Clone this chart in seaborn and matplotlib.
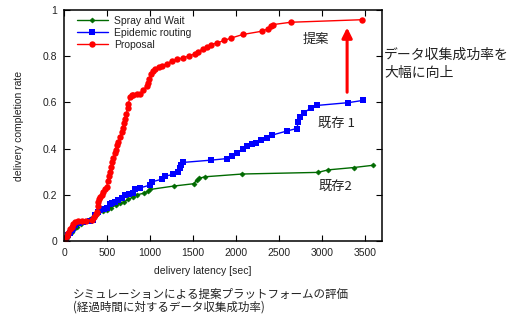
import numpy as np
import pandas as pd
import matplotlib
matplotlib.use("Agg")
import matplotlib.pyplot as plt
import seaborn as sns

# ---------------- data ----------------
spray_x = [0, 30, 60, 90, 120, 150, 200, 250, 300, 350, 400, 450, 500, 550, 600, 650,
           700, 750, 800, 850, 930, 980, 1000, 1280, 1510, 1545, 1565, 1640, 2075, 2955,
           3075, 3370, 3600]
spray_y = [0, 0.015, 0.03, 0.04, 0.05, 0.06, 0.075, 0.085, 0.097, 0.11, 0.12, 0.128, 0.135,
           0.145, 0.155, 0.163, 0.17, 0.18, 0.19, 0.2, 0.207, 0.217, 0.223, 0.238, 0.248,
           0.264, 0.271, 0.278, 0.29, 0.297, 0.308, 0.318, 0.328]

epi_x = [0, 20, 50, 70, 90, 110, 128, 175, 225, 300, 342, 361, 390, 419, 460, 504, 535, 560,
         594, 630, 671, 710, 760, 807, 826, 885, 1001, 1021, 1144, 1175, 1272, 1330, 1350,
         1365, 1381, 1711, 1901, 1952, 2017, 2087, 2134, 2185, 2235, 2289, 2359, 2417, 2592,
         2708, 2727, 2748, 2794, 2875, 2949, 3310, 3484]
epi_y = [0, 0.007, 0.026, 0.035, 0.048, 0.058, 0.069, 0.076, 0.083, 0.087, 0.091, 0.112,
         0.125, 0.134, 0.137, 0.141, 0.16, 0.165, 0.17, 0.177, 0.184, 0.199, 0.203, 0.209,
         0.223, 0.23, 0.242, 0.256, 0.268, 0.281, 0.288, 0.299, 0.314, 0.328, 0.34, 0.35,
         0.357, 0.369, 0.383, 0.397, 0.41, 0.419, 0.426, 0.439, 0.448, 0.458, 0.476, 0.487,
         0.515, 0.537, 0.556, 0.576, 0.587, 0.599, 0.609]

prop_x = [0, 12, 30, 50, 70, 90, 110, 128, 160, 206, 260, 322, 349, 370, 381, 392, 400, 410,
          419, 440, 458, 480, 497, 510, 520, 535, 550, 562, 574, 590, 600, 613, 630, 652,
          671, 690, 700, 710, 725, 740, 749, 768, 790, 807, 850, 885, 923, 963, 980, 993,
          1013, 1030, 1059, 1100, 1137, 1195, 1254, 1320, 1389, 1450, 1525, 1560, 1621,
          1660, 1708, 1785, 1862, 1940, 2080, 2301, 2378, 2410, 2436, 2639, 3472]
prop_y = [0, 0.004, 0.02, 0.035, 0.05, 0.06, 0.075, 0.083, 0.085, 0.086, 0.088, 0.091,
          0.102, 0.115, 0.127, 0.15, 0.17, 0.18, 0.191, 0.2, 0.213, 0.225, 0.235, 0.26,
          0.28, 0.30, 0.32, 0.34, 0.36, 0.38, 0.395, 0.415, 0.43, 0.45, 0.47, 0.49, 0.51,
          0.53, 0.55, 0.575, 0.595, 0.623, 0.63, 0.634, 0.636, 0.638, 0.655, 0.67, 0.685,
          0.703, 0.724, 0.735, 0.746, 0.752, 0.757, 0.768, 0.778, 0.786, 0.794, 0.80, 0.811,
          0.82, 0.832, 0.84, 0.85, 0.858, 0.868, 0.878, 0.894, 0.908, 0.919, 0.93, 0.937,
          0.947, 0.958]

series_names = ["Spray and Wait", "Epidemic routing", "Proposal"]
x_ticks = [0, 500, 1000, 1500, 2000, 2500, 3000, 3500]
y_ticks = [0, 0.2, 0.4, 0.6, 0.8, 1.0]
y_ticklabels = ["0", "0.2", "0.4", "0.6", "0.8", "1"]

# ---------------- style ----------------
sns.set_style("ticks")
plt.rcParams["font.family"] = ["Liberation Sans", "Noto Sans CJK JP"]
JP = ["Noto Sans CJK JP", "Liberation Sans"]

W, H = 519, 324
fig = plt.figure(figsize=(W / 100, H / 100), dpi=100)
ax = fig.add_axes([64 / W, 1 - 241 / H, (382 - 64) / W, (241 - 10) / H])

df_s = pd.DataFrame({"x": spray_x, "y": spray_y})
df_e = pd.DataFrame({"x": epi_x, "y": epi_y})
df_p = pd.DataFrame({"x": prop_x, "y": prop_y})

sns.lineplot(data=df_s, x="x", y="y", ax=ax, sort=False, estimator=None, color="#006a00",
             lw=1.0, marker="D", markersize=2.6, markeredgewidth=0.4,
             markeredgecolor="#006a00", label=series_names[0])
sns.lineplot(data=df_e, x="x", y="y", ax=ax, sort=False, estimator=None, color="#0000ff",
             lw=1.0, marker="s", markersize=4.3, markeredgewidth=0,
             label=series_names[1])
sns.lineplot(data=df_p, x="x", y="y", ax=ax, sort=False, estimator=None, color="#ff0000",
             lw=1.0, marker="o", markersize=4.6, markeredgewidth=0,
             label=series_names[2])

ax.set_xlim(0, 3700)
ax.set_ylim(0, 1.0)
ax.set_xticks(x_ticks)
ax.set_xticklabels([str(v) for v in x_ticks])
ax.set_yticks(y_ticks)
ax.set_yticklabels(y_ticklabels)
ax.tick_params(direction="in", top=True, right=True, length=4, width=0.8,
               labelsize=7.5, pad=5, colors="black", labelcolor="#222222")
for s in ax.spines.values():
    s.set_linewidth(1.1)
    s.set_color("black")

ax.set_xlabel("delivery latency [sec]", fontsize=7.5, color="#222222")
ax.set_ylabel("delivery completion rate", fontsize=7.5, color="#222222")
ax.xaxis.set_label_coords(0.437, -0.11)
ax.yaxis.set_label_coords(-0.125, 0.5)

leg = ax.legend(loc="upper left", bbox_to_anchor=(0.04, 0.975), frameon=False,
                fontsize=7.5, handlelength=3.0, handletextpad=0.6, labelspacing=0.2,
                borderpad=0, borderaxespad=0)
for t in leg.get_texts():
    t.set_color("#222222")

# annotations
ax.text(2933, 0.873, "提案", family=JP, fontsize=9.5, ha="center", va="center", color="#222222")
ax.text(3166, 0.51, "既存 1", family=JP, fontsize=9.5, ha="center", va="center", color="#222222")
ax.text(3154, 0.238, "既存2", family=JP, fontsize=9.5, ha="center", va="center", color="#222222")
ax.annotate("", xy=(3294, 0.924), xytext=(3294, 0.644),
            arrowprops=dict(arrowstyle="-|>,head_length=0.6,head_width=0.3",
                            color="red", lw=2.2, mutation_scale=10,
                            shrinkA=0, shrinkB=0))

fig.text(384 / W, 1 - 55 / H, "データ収集成功率を", family=JP, fontsize=10,
         ha="left", va="center", color="#222222")
fig.text(384 / W, 1 - 73.5 / H, "大幅に向上", family=JP, fontsize=10,
         ha="left", va="center", color="#222222")

fig.text(73 / W, 1 - 294 / H, "シミュレーションによる提案プラットフォームの評価", family=JP,
         fontsize=8.3, ha="left", va="center", color="#222222")
fig.text(73 / W, 1 - 307 / H, "(経過時間に対するデータ収集成功率)", family=JP,
         fontsize=8.3, ha="left", va="center", color="#222222")

fig.savefig("out.png", dpi=100)
